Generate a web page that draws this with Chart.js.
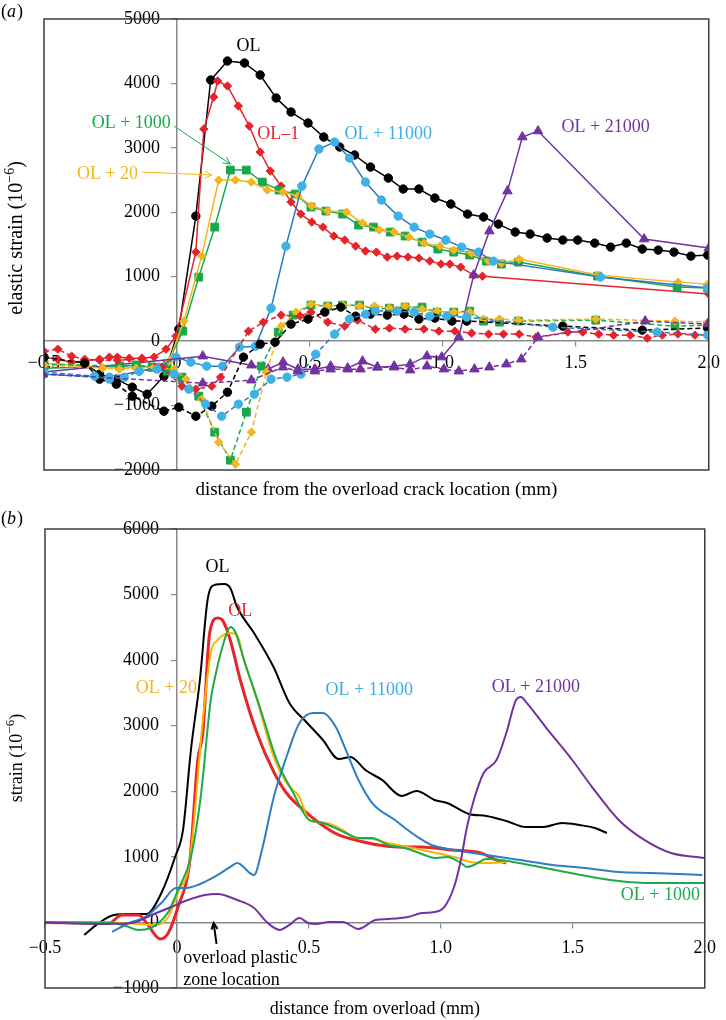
<!DOCTYPE html>
<html><head><meta charset="utf-8">
<script src="https://cdn.jsdelivr.net/npm/chart.js@4.4.1/dist/chart.umd.min.js"></script>
<style>html,body{margin:0;padding:0;background:#fff;} canvas{display:block;}</style>
</head><body>
<canvas id="ca" width="726" height="500"></canvas>
<canvas id="cb" width="726" height="520"></canvas>
<script>
// ---------- tick values / labels ----------
const xTickValues = [-0.5, 0, 0.5, 1.0, 1.5, 2.0];
const xTickLabels = ['\u22120.5', '0', '0.5', '1.0', '1.5', '2.0'];
const yTickValuesA = [-2000, -1000, 0, 1000, 2000, 3000, 4000, 5000];
const yTickLabelsA = ['\u22122000', '\u22121000', '0', '1000', '2000', '3000', '4000', '5000'];
const yTickValuesB = [-1000, 0, 1000, 2000, 3000, 4000, 5000, 6000];
const yTickLabelsB = ['\u22121000', '0', '1000', '2000', '3000', '4000', '5000', '6000'];

// ---------- panel (a): measured elastic strain ----------
const aOL = [[-0.347,-342],[-0.291,-512],[-0.228,-590],[-0.168,-714],[-0.112,-823],[-0.049,-544],[0.007,186],[0.071,1941],[0.127,4053],[0.190,4348],[0.254,4317],[0.313,4131],[0.373,3774],[0.429,3556],[0.493,3386],[0.552,3168],[0.612,3013],[0.668,2889],[0.728,2702],[0.795,2531],[0.851,2361],[0.910,2361],[0.970,2221],[1.030,2128],[1.093,1972],[1.153,1926],[1.209,1817],[1.272,1693],[1.328,1662],[1.392,1600],[1.451,1569],[1.507,1569],[1.571,1522],[1.631,1460],[1.690,1522],[1.750,1429],[1.810,1413],[1.869,1382],[1.933,1320],[1.996,1336]];
const aOLd = [[-0.5,-248],[-0.347,-342],[-0.291,-590],[-0.228,-668],[-0.168,-854],[-0.049,-1087],[0.007,-1025],[0.071,-1165],[0.131,-1009],[0.190,-792],[0.250,-248],[0.313,-47],[0.369,-16],[0.429,264],[0.493,342],[0.556,450],[0.616,528],[0.672,388],[0.728,419],[0.791,404],[0.854,419],[0.910,342],[0.970,357],[1.034,311],[1.090,311],[1.451,233],[1.750,171],[1.996,202]];
const aOLm1 = [[-0.5,-248],[-0.448,-280],[-0.396,-326],[-0.347,-310],[-0.291,-280],[-0.254,-248],[-0.224,-248],[-0.179,-264],[-0.131,-264],[-0.086,-248],[-0.041,-124],[-0.004,78],[0.071,1382],[0.101,3292],[0.138,3789],[0.153,4038],[0.190,3960],[0.231,3650],[0.272,3339],[0.313,2935],[0.351,2640],[0.392,2407],[0.429,2159],[0.466,1972],[0.507,1848],[0.549,1770],[0.590,1631],[0.631,1569],[0.672,1475],[0.709,1398],[0.750,1382],[0.791,1305],[0.828,1320],[0.869,1305],[0.910,1289],[0.951,1242],[0.993,1196],[1.026,1196],[1.067,1149],[1.116,1025],[1.149,1009],[2.0,730]];
const aOLm1d = [[-0.5,-155],[-0.448,-124],[-0.396,-233],[-0.347,-280],[-0.291,-295],[-0.224,-295],[-0.131,-280],[-0.056,-404],[0.019,-699],[0.071,-745],[0.131,-699],[0.164,-559],[0.269,155],[0.325,295],[0.392,404],[0.463,388],[0.504,450],[0.567,295],[0.631,233],[0.679,326],[0.746,186],[0.799,202],[0.858,186],[0.929,186],[0.985,155],[1.045,155],[1.108,124],[1.172,109],[1.228,109],[1.287,109],[1.351,62],[1.470,140],[1.526,140],[1.586,109],[1.642,93],[1.705,93],[1.769,47],[1.825,93],[1.884,109],[1.948,93],[1.996,93]];
const aOL20 = [[-0.5,-342],[-0.28,-404],[-0.216,-419],[-0.153,-404],[-0.086,-404],[-0.03,-311],[0.026,311],[0.093,1320],[0.157,2500],[0.220,2500],[0.280,2469],[0.340,2345],[0.399,2314],[0.455,2252],[0.507,2097],[0.567,2019],[0.638,2003],[0.698,1833],[0.761,1724],[0.817,1693],[0.873,1615],[0.929,1522],[0.989,1475],[1.041,1413],[1.108,1367],[1.172,1242],[1.220,1211],[1.287,1273],[1.582,1025],[1.884,916],[1.996,885]];
const aOL20d = [[-0.5,-373],[-0.28,-419],[-0.216,-435],[-0.153,-419],[-0.086,-404],[-0.011,-435],[0.034,-590],[0.093,-901],[0.157,-1568],[0.220,-1910],[0.280,-1413],[0.336,-481],[0.392,233],[0.448,450],[0.504,575],[0.567,544],[0.623,559],[0.687,544],[0.743,544],[0.799,512],[0.858,544],[0.922,497],[0.978,466],[1.041,450],[1.101,450],[1.153,342],[1.213,342],[1.284,326],[1.575,342],[1.873,311],[1.996,295]];
const aOL1000 = [[-0.5,-419],[-0.216,-388],[-0.153,-373],[-0.093,-404],[-0.037,-357],[0.022,155],[0.082,994],[0.142,1770],[0.201,2656],[0.261,2656],[0.321,2469],[0.384,2345],[0.444,2283],[0.504,2081],[0.560,2019],[0.623,1972],[0.683,1801],[0.739,1770],[0.802,1693],[0.858,1631],[0.922,1537],[0.981,1429],[1.041,1382],[1.101,1336],[1.164,1242],[1.220,1196],[1.284,1227],[1.582,1009],[1.881,839],[1.996,823]];
const aOL1000d = [[-0.5,-357],[-0.216,-388],[-0.153,-373],[-0.093,-404],[-0.037,-466],[0.019,-559],[0.082,-854],[0.142,-1413],[0.201,-1848],[0.261,-1103],[0.317,-388],[0.381,140],[0.437,404],[0.504,559],[0.567,544],[0.623,559],[0.687,559],[0.743,497],[0.799,512],[0.858,528],[0.922,528],[0.978,450],[1.041,450],[1.101,466],[1.153,311],[1.213,295],[1.284,311],[1.575,326],[1.873,233],[1.996,248]];
const aOL11000 = [[-0.5,-512],[-0.254,-559],[-0.142,-466],[-0.067,-404],[-0.004,-248],[0.052,-326],[0.112,-388],[0.172,-388],[0.235,-93],[0.295,-78],[0.354,512],[0.410,1475],[0.470,2407],[0.534,2982],[0.593,3090],[0.649,2842],[0.709,2469],[0.769,2190],[0.832,1941],[0.892,1770],[0.951,1662],[1.011,1569],[1.071,1460],[1.134,1382],[1.190,1242],[1.593,994],[1.996,823]];
const aOL11000d = [[-0.5,-481],[-0.31,-543],[-0.254,-590],[-0.198,-559],[-0.142,-466],[-0.075,-435],[-0.011,-512],[0.045,-745],[0.108,-978],[0.168,-1165],[0.231,-978],[0.291,-823],[0.354,-590],[0.414,-559],[0.466,-512],[0.522,-202],[0.593,109],[0.649,342],[0.709,419],[0.746,466],[0.828,466],[0.892,450],[0.951,388],[1.015,388],[1.090,373],[1.414,217],[1.806,140],[1.996,93]];
const aOL21000 = [[-0.504,-481],[0.097,-233],[0.280,-373],[0.343,-435],[0.399,-326],[0.455,-435],[0.519,-435],[0.578,-388],[0.642,-419],[0.698,-311],[0.754,-404],[0.817,-388],[0.877,-357],[0.940,-233],[0.996,-248],[1.060,62],[1.116,1025],[1.175,1708],[1.243,2329],[1.299,3168],[1.358,3261],[1.757,1584],[2.0,1444]];
const aOL21000d = [[-0.504,-512],[0.097,-652],[0.280,-606],[0.399,-404],[0.455,-466],[0.519,-466],[0.578,-435],[0.642,-435],[0.690,-435],[0.754,-404],[0.817,-404],[0.877,-450],[0.940,-388],[1.004,-435],[1.060,-466],[1.119,-435],[1.175,-404],[1.239,-357],[1.295,-280],[1.358,62],[1.761,311],[1.996,264]];

// ---------- panel (b): simulated strain ----------
const bOL = [[-0.351,-190],[-0.295,-8],[-0.239,113],[-0.171,128],[-0.115,128],[-0.059,449],[-0.007,998],[0.023,1410],[0.053,2630],[0.087,3697],[0.116,4917],[0.142,5146],[0.180,5161],[0.202,5100],[0.228,4810],[0.292,4414],[0.366,3896],[0.426,3347],[0.490,3057],[0.553,2782],[0.613,2493],[0.658,2523],[0.714,2325],[0.777,2173],[0.852,1929],[0.908,2005],[0.976,1868],[1.024,1822],[1.106,1654],[1.173,1623],[1.248,1547],[1.323,1455],[1.386,1455],[1.461,1516],[1.525,1486],[1.584,1440],[1.629,1364]];
const bOLr = [[-0.5,0],[-0.257,-9],[-0.209,113],[-0.145,113],[-0.115,-9],[-0.063,-253],[-0.033,-161],[0.004,236],[0.049,952],[0.079,2477],[0.098,2889],[0.124,4414],[0.154,4642],[0.172,4612],[0.202,4307],[0.240,3697],[0.303,2889],[0.367,2294],[0.415,1974],[0.479,1715],[0.539,1517],[0.613,1334],[0.677,1258],[0.763,1181],[0.837,1151],[0.927,1151],[1.039,1105],[1.151,1059],[1.211,952],[1.248,907]];
const bOL20 = [[-0.5,0],[-0.257,0],[-0.145,-24],[-0.081,-38],[-0.033,84],[0.004,450],[0.049,952],[0.098,3087],[0.128,4109],[0.154,4307],[0.202,4414],[0.228,4383],[0.254,4002],[0.303,3392],[0.367,2523],[0.415,2127],[0.464,1913],[0.501,1562],[0.565,1517],[0.628,1410],[0.677,1288],[0.740,1272],[0.800,1211],[0.927,1105],[1.050,998],[1.114,921],[1.173,906],[1.248,921]];
const bOL1000 = [[-0.5,0],[-0.246,-9],[-0.193,-55],[-0.145,-116],[-0.100,-85],[-0.070,-9],[-0.033,159],[0.004,495],[0.053,998],[0.090,1913],[0.128,3392],[0.142,3697],[0.180,4307],[0.202,4505],[0.221,4429],[0.254,4002],[0.314,3286],[0.378,2477],[0.441,1974],[0.501,1562],[0.539,1531],[0.591,1455],[0.640,1364],[0.688,1288],[0.740,1288],[0.800,1181],[0.864,1135],[0.938,1029],[0.976,982],[1.024,998],[1.076,906],[1.099,845],[1.125,876],[1.173,967],[1.226,952],[1.274,921],[1.375,845],[1.472,769],[1.573,693],[1.674,632],[1.797,601],[1.920,601],[2.0,601]];
const bOL11000 = [[-0.246,-145],[-0.182,-9],[-0.119,84],[-0.059,297],[-0.003,526],[0.034,526],[0.079,571],[0.142,693],[0.202,846],[0.228,907],[0.292,724],[0.322,1105],[0.367,1913],[0.415,2523],[0.464,3042],[0.516,3195],[0.553,3195],[0.602,2981],[0.640,2630],[0.688,2172],[0.740,1821],[0.826,1562],[0.901,1333],[0.965,1181],[1.050,1105],[1.173,1029],[1.300,952],[1.424,876],[1.547,830],[1.674,769],[1.797,754],[1.991,724]];
const bOL21000 = [[-0.5,0],[-0.294,-23],[-0.171,-9],[-0.096,113],[-0.022,236],[0.042,342],[0.105,419],[0.154,434],[0.228,342],[0.292,221],[0.340,6],[0.389,-114],[0.426,-38],[0.464,67],[0.497,-9],[0.527,-24],[0.576,6],[0.628,6],[0.688,-100],[0.752,37],[0.800,52],[0.875,82],[0.927,143],[0.976,159],[1.013,235],[1.050,540],[1.076,952],[1.099,1456],[1.125,1868],[1.162,2279],[1.211,2477],[1.248,2889],[1.285,3392],[1.304,3437],[1.323,3361],[1.397,2980],[1.498,2477],[1.573,2065],[1.674,1562],[1.771,1258],[1.872,1059],[2.0,983]];

// ---------- styling ----------
const FAM = '"Liberation Serif", "Times New Roman", serif';
const FONT = '18px ' + FAM;
const AX = '#8a8a8a';
const col = {black:'#000000', red:'#e5232b', yellow:'#f5b51c', green:'#17a84c', blueLine:'#2e78c0', blueMark:'#3eb2e4', purple:'#7232a0'};

const pts = arr => arr.map(p => ({x: p[0], y: p[1]}));

function mk(data, color, style, radius, dashed, markColor) {
  return {
    data: pts(data), borderColor: color, backgroundColor: markColor || color,
    pointBackgroundColor: markColor || color, pointBorderColor: markColor || color,
    pointStyle: style, pointRadius: radius, pointBorderWidth: 1, pointHoverRadius: radius,
    borderWidth: 1.5, borderDash: dashed ? [5, 3] : [], tension: 0, showLine: true, fill: false
  };
}
function sm(data, color, width) {
  return { data: pts(data), borderColor: color, borderWidth: width, pointRadius: 0,
    cubicInterpolationMode: 'monotone', showLine: true, fill: false };
}

function drawArrow(ctx, x1, y1, x2, y2, color, w, head) {
  ctx.save();
  ctx.strokeStyle = color; ctx.lineWidth = w;
  ctx.beginPath(); ctx.moveTo(x1, y1); ctx.lineTo(x2, y2); ctx.stroke();
  const a = Math.atan2(y2 - y1, x2 - x1);
  ctx.beginPath();
  ctx.moveTo(x2 - head * Math.cos(a - 0.45), y2 - head * Math.sin(a - 0.45));
  ctx.lineTo(x2, y2);
  ctx.lineTo(x2 - head * Math.cos(a + 0.45), y2 - head * Math.sin(a + 0.45));
  ctx.stroke();
  ctx.restore();
}

function supText(ctx, size, main, sup, tail, cx, cy) {
  const big = size + 'px ' + FAM, small = Math.round(size * 0.7) + 'px ' + FAM;
  ctx.font = big;
  const w1 = ctx.measureText(main).width, w3 = ctx.measureText(tail).width;
  ctx.font = small;
  const w2 = ctx.measureText(sup).width;
  let x = cx - (w1 + w2 + w3) / 2;
  ctx.textAlign = 'left'; ctx.textBaseline = 'middle';
  ctx.font = big; ctx.fillText(main, x, cy); x += w1;
  ctx.font = small; ctx.fillText(sup, x, cy - size * 0.35); x += w2;
  ctx.font = big; ctx.fillText(tail, x, cy);
}

const decor = {
  id: 'decor',
  beforeDraw(chart, args, o) {
    // y tick labels sit to the left of the centred y axis, clear of the tick marks
    const items = chart.scales.y.getLabelItems(chart.chartArea);
    if (!items._shifted) {
      items.forEach(it => { it.options.translation[0] -= o.yLabelShift; });
      items._shifted = true;
    }
  },
  afterDraw(chart, args, o) {
    const ctx = chart.ctx, xs = chart.scales.x, ys = chart.scales.y, ca = chart.chartArea;
    ctx.save();
    ctx.strokeStyle = '#3c3c3c'; ctx.lineWidth = 1.5;
    ctx.strokeRect(ca.left, ca.top, ca.right - ca.left, ca.bottom - ca.top);
    ctx.font = FONT; ctx.textBaseline = 'middle';
    for (const l of o.labels) {
      ctx.fillStyle = l.color; ctx.textAlign = l.align || 'center';
      ctx.fillText(l.text, xs.getPixelForValue(l.x), ys.getPixelForValue(l.y));
    }
    for (const a of o.arrows) {
      drawArrow(ctx, xs.getPixelForValue(a.from[0]), ys.getPixelForValue(a.from[1]),
        xs.getPixelForValue(a.to[0]), ys.getPixelForValue(a.to[1]), a.color, a.width, a.head);
    }
    ctx.fillStyle = '#000';
    // x-axis title
    ctx.font = o.xTitleSize + 'px ' + FAM;
    ctx.textAlign = 'center'; ctx.textBaseline = 'middle';
    ctx.fillText(o.xTitle, (ca.left + ca.right) / 2, o.xTitleY);
    // y-axis title (rotated)
    ctx.save();
    ctx.translate(o.yTitleX, o.yTitleY);
    ctx.rotate(-Math.PI / 2);
    supText(ctx, o.yTitleSize, o.yTitle, '\u22126', ')', 0, 0);
    ctx.restore();
    // panel label
    ctx.font = FONT; ctx.textAlign = 'left'; ctx.textBaseline = 'middle';
    const w1 = ctx.measureText('(').width;
    ctx.fillText('(', 1, o.panelY);
    ctx.font = 'italic ' + FONT; const w2 = ctx.measureText(o.panel).width;
    ctx.fillText(o.panel, 1 + w1, o.panelY);
    ctx.font = FONT; ctx.fillText(')', 1 + w1 + w2 + 1, o.panelY);
    ctx.restore();
  }
};

function scales(ymin, ymax, yVals, yLabels, xPad) {
  const common = {
    grid: {drawOnChartArea: false, drawTicks: true, tickLength: 5, color: AX, lineWidth: 1.2},
    border: {display: true, color: AX, width: 1.5}
  };
  return {
    x: Object.assign({}, common, {
      type: 'linear', min: -0.5, max: 2.0, position: {y: 0},
      afterBuildTicks: s => { s.ticks = xTickValues.map(v => ({value: v})); },
      ticks: {autoSkip: false, maxRotation: 0, padding: xPad, color: '#000', font: {family: '"Liberation Serif"', size: 18},
        callback: (v) => xTickLabels[xTickValues.indexOf(v)]}
    }),
    y: Object.assign({}, common, {
      type: 'linear', min: ymin, max: ymax, position: {x: 0},
      afterBuildTicks: s => { s.ticks = yVals.map(v => ({value: v})); },
      ticks: {autoSkip: false, color: '#000', font: {family: '"Liberation Serif"', size: 18},
        callback: (v) => yLabels[yVals.indexOf(v)]}
    })
  };
}

new Chart(document.getElementById('ca'), {
  type: 'scatter',
  data: {datasets: [
    mk(aOL21000d, col.purple, 'triangle', 5.5, true),
    mk(aOL11000d, col.blueLine, 'circle', 4.2, true, col.blueMark),
    mk(aOLd, col.black, 'circle', 4.2, true),
    mk(aOLm1d, col.red, 'rectRot', 4.2, true),
    mk(aOL20d, col.yellow, 'rectRot', 4.2, true),
    mk(aOL1000d, col.green, 'rect', 5.5, true),
    mk(aOL21000, col.purple, 'triangle', 5.5, false),
    mk(aOL11000, col.blueLine, 'circle', 4.2, false, col.blueMark),
    mk(aOL20, col.yellow, 'rectRot', 4.2, false),
    mk(aOL1000, col.green, 'rect', 5.5, false),
    mk(aOLm1, col.red, 'rectRot', 4.2, false),
    mk(aOL, col.black, 'circle', 4.2, false)
  ]},
  options: {
    responsive: false, animation: false, events: [],
    layout: {padding: {left: 44, top: 19, right: 12, bottom: 30}},
    plugins: {legend: {display: false}, tooltip: {enabled: false},
      decor: {
        yLabelShift: 17,
        labels: [
          {text: 'OL', x: 0.269, y: 4581, color: '#000'},
          {text: 'OL\u20131', x: 0.381, y: 3215, color: col.red},
          {text: 'OL + 1000', x: -0.172, y: 3386, color: col.green},
          {text: 'OL + 20', x: -0.261, y: 2594, color: col.yellow},
          {text: 'OL + 11000', x: 0.795, y: 3215, color: '#3aaee2'},
          {text: 'OL + 21000', x: 1.612, y: 3323, color: col.purple}
        ],
        arrows: [
          {from: [-0.011, 3339], to: [0.201, 2749], color: col.green, width: 1, head: 8},
          {from: [-0.134, 2625], to: [0.131, 2578], color: col.yellow, width: 1, head: 8}
        ],
        xTitle: 'distance from the overload crack location (mm)', xTitleY: 490, xTitleSize: 19,
        yTitle: 'elastic strain (10', yTitleX: 17, yTitleY: 238, yTitleSize: 20,
        panel: 'a', panelY: 12
      }
    },
    scales: scales(-2000, 5000, yTickValuesA, yTickLabelsA, 6)
  },
  plugins: [decor]
});

new Chart(document.getElementById('cb'), {
  type: 'scatter',
  data: {datasets: [
    sm(bOL21000, col.purple, 2),
    sm(bOL11000, '#2f7ec3', 2),
    sm(bOL1000, '#1daa4b', 2),
    sm(bOL20, '#f7b500', 2),
    sm(bOLr, '#e8262a', 3),
    sm(bOL, '#000000', 2)
  ]},
  options: {
    responsive: false, animation: false, events: [],
    layout: {padding: {left: 45, top: 29, right: 12, bottom: 32}},
    plugins: {legend: {display: false}, tooltip: {enabled: false},
      decor: {
        yLabelShift: 18,
        labels: [
          {text: 'OL', x: 0.154, y: 5420, color: '#000'},
          {text: 'OL', x: 0.240, y: 4748, color: '#e8262a'},
          {text: 'OL + 20', x: -0.040, y: 3574, color: '#f3b52a'},
          {text: 'OL + 11000', x: 0.729, y: 3544, color: '#3aaee2'},
          {text: 'OL + 21000', x: 1.360, y: 3590, color: col.purple},
          {text: 'OL + 1000', x: 1.832, y: 419, color: '#1daa4b'},
          {text: 'overload plastic', x: 0.024, y: -542, color: '#000', align: 'left'},
          {text: 'zone location', x: 0.024, y: -878, color: '#000', align: 'left'}
        ],
        arrows: [
          {from: [0.150, -328], to: [0.139, -9], color: '#000', width: 2, head: 7}
        ],
        xTitle: 'distance from overload (mm)', xTitleY: 509, xTitleSize: 18,
        yTitle: 'strain (10', yTitleX: 17, yTitleY: 258, yTitleSize: 18,
        panel: 'b', panelY: 19
      }
    },
    scales: scales(-1000, 6000, yTickValuesB, yTickLabelsB, 10)
  },
  plugins: [decor]
});
</script>
</body></html>
